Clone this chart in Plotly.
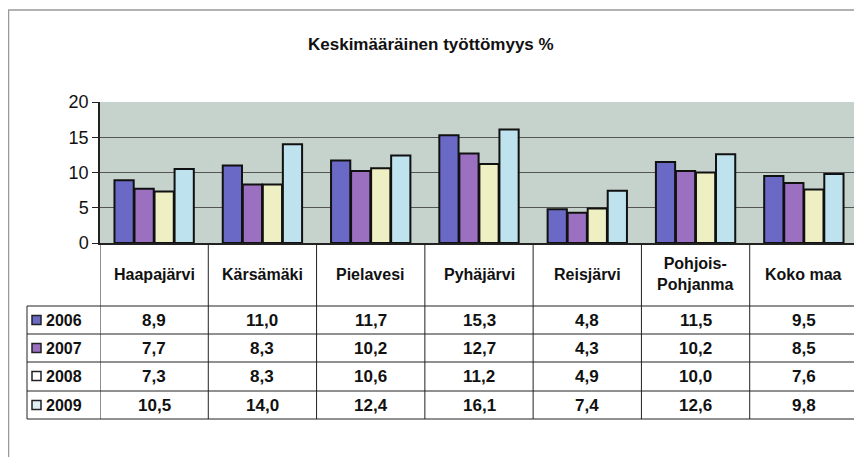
import plotly.graph_objects as go

# data
categories = ['Haapajärvi', 'Kärsämäki', 'Pielavesi', 'Pyhäjärvi', 'Reisjärvi',
              'Pohjois-<br>Pohjanma', 'Koko maa']
years = ['2006', '2007', '2008', '2009']
v2006 = [8.9, 11.0, 11.7, 15.3, 4.8, 11.5, 9.5]
v2007 = [7.7, 8.3, 10.2, 12.7, 4.3, 10.2, 8.5]
v2008 = [7.3, 8.3, 10.6, 11.2, 4.9, 10.0, 7.6]
v2009 = [10.5, 14.0, 12.4, 16.1, 7.4, 12.6, 9.8]
series = [v2006, v2007, v2008, v2009]
colors = ['#6a6ac6', '#9b70c0', '#eeefc2', '#bfe3ee']

# page body has an 8px margin, so work in window pixels shifted by OFF
OFF = 8
W, H = 862 - OFF, 457 - OFF
L, R, T, B = 100 - OFF, 4, 102 - OFF, 457 - 243
pw, ph = W - L - R, H - T - B


def px(x):
    return (x - OFF - L) / pw


def py(y):
    return (H - B - (y - OFF)) / ph


FONT = 'Arial, Liberation Sans, sans-serif'
n = len(categories)

fig = go.Figure()
for name, vals, col in zip(years, series, colors):
    fig.add_trace(go.Bar(x=list(range(n)), y=vals, name=name,
                         marker=dict(color=col, line=dict(color='#111', width=2))))

shapes = []
ann = []

# outer frame
shapes.append(dict(type='rect', xref='paper', yref='paper', x0=px(8.5), x1=px(861),
                   y0=py(10), y1=py(470), line=dict(color='#999', width=1.5)))

# table lines
row_lines = [306, 334, 362, 391, 419]
row_centers = [320, 348, 376, 405]
for y in row_lines:
    shapes.append(dict(type='line', xref='paper', yref='paper', x0=px(27), x1=px(858),
                       y0=py(y), y1=py(y), line=dict(color='#222', width=1)))
shapes.append(dict(type='line', xref='paper', yref='paper', x0=px(27), x1=px(27),
                   y0=py(306), y1=py(419), line=dict(color='#222', width=1)))
for i in range(n + 1):
    shapes.append(dict(type='line', xref='x', yref='paper', x0=i - 0.5, x1=i - 0.5,
                       y0=0, y1=py(419), line=dict(color='#222', width=1)))

# category headers
for i, c in enumerate(categories):
    ann.append(dict(x=i, y=py(274), xref='x', yref='paper', text='<b>%s</b>' % c,
                    showarrow=False, font=dict(family=FONT, size=16, color='#111'),
                    xanchor='center', yanchor='middle'))

# legend keys + values
key_fill = ['#6a6ac6', '#9b70c0', '#ffffff', '#dfeff3']
for r, (name, vals) in enumerate(zip(years, series)):
    yc = row_centers[r]
    shapes.append(dict(type='rect', xref='paper', yref='paper', x0=px(32), x1=px(41),
                       y0=py(yc - 4.5), y1=py(yc + 4.5), fillcolor=key_fill[r],
                       line=dict(color='#222', width=1.5)))
    ann.append(dict(x=px(44), y=py(yc), xref='paper', yref='paper',
                    text='<b>%s</b>' % name, showarrow=False, xanchor='left',
                    yanchor='middle', font=dict(family=FONT, size=16, color='#111')))
    for i, v in enumerate(vals):
        ann.append(dict(x=i, y=py(yc), xref='x', yref='paper',
                        text='<b>%s</b>' % ('%.1f' % v).replace('.', ','),
                        showarrow=False, xanchor='center', yanchor='middle',
                        font=dict(family=FONT, size=17, color='#111')))

# title
ann.append(dict(x=px(431), y=py(44), xref='paper', yref='paper',
                text='<b>Keskimääräinen työttömyys %</b>', showarrow=False,
                xanchor='center', yanchor='middle',
                font=dict(family=FONT, size=17, color='#111')))

fig.update_layout(
    width=W, height=H,
    margin=dict(l=L, r=R, t=T, b=B),
    paper_bgcolor='white',
    plot_bgcolor='#c6d2cc',
    showlegend=False,
    barmode='group', bargap=0.26, bargroupgap=0.04,
    xaxis=dict(range=[-0.5, n - 0.5], showticklabels=False, showgrid=False,
               zeroline=False, showline=True, linecolor='#222', linewidth=1.5,
               mirror=False),
    yaxis=dict(range=[0, 20], tickvals=[0, 5, 10, 15, 20], showgrid=True,
               gridcolor='#555', gridwidth=1, zeroline=False, showline=True,
               linecolor='#222', linewidth=1.5, ticks='outside', ticklen=6,
               tickcolor='#222', tickfont=dict(family=FONT, size=18, color='#111')),
    shapes=shapes,
    annotations=ann,
)

fig.write_html('out.html')
